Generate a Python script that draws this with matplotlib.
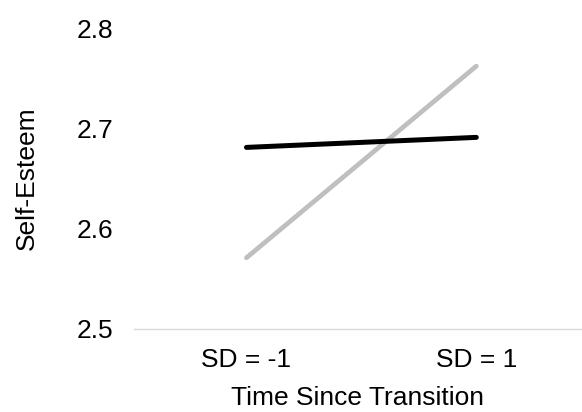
import matplotlib.pyplot as plt

plt.rcParams['font.family'] = ['Liberation Sans', 'DejaVu Sans']

categories = ["SD = -1", "SD = 1"]
black_series = [2.681, 2.691]
gray_series = [2.571, 2.762]
y_ticks = [2.5, 2.6, 2.7, 2.8]

fig = plt.figure(figsize=(5.82, 4.12), dpi=100)
ax = fig.add_axes([0.230, 0.2015, 0.770, 0.7305])

x = list(range(len(categories)))
ax.plot(x, gray_series, color="#bfbfbf", linewidth=3.4, solid_capstyle="round")
ax.plot(x, black_series, color="black", linewidth=3.6, solid_capstyle="round")

ax.set_xlim(-0.49, 1.46)
ax.set_ylim(2.5, 2.8)
ax.set_yticks(y_ticks)
ax.set_yticklabels([f"{v:.1f}" for v in y_ticks])
ax.set_xticks(x)
ax.set_xticklabels(categories)

for side in ["top", "right", "left"]:
    ax.spines[side].set_visible(False)
ax.spines["bottom"].set_color("#d9d9d9")
ax.spines["bottom"].set_linewidth(1.0)
ax.tick_params(axis="both", length=0, labelsize=19, colors="black")
ax.tick_params(axis="y", pad=15)
ax.tick_params(axis="x", pad=14)

ax.set_xlabel("Time Since Transition", fontsize=19, labelpad=10)
ax.set_ylabel("Self-Esteem", fontsize=19, labelpad=27)

fig.savefig("out.png", dpi=100)
plt.close(fig)
